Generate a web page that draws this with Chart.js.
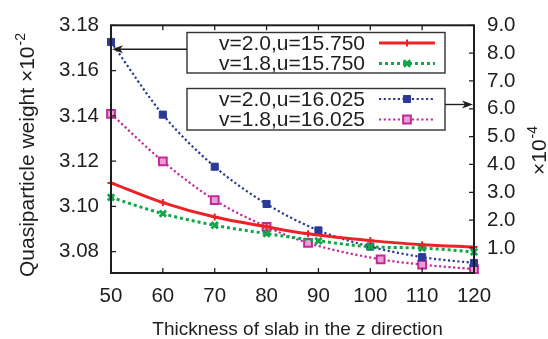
<!DOCTYPE html>
<html>
<head>
<meta charset="utf-8">
<script src="https://cdn.jsdelivr.net/npm/chart.js@4/dist/chart.umd.min.js"></script>
<style>
  html, body { margin: 0; padding: 0; background: #fff; }
  #wrap { width: 548px; height: 339px; }
</style>
</head>
<body>
<div id="wrap"><canvas id="myCanvas"></canvas></div>
<script>
// thickness values (x) and weights for each run
var xRed = [50, 60, 70, 80, 88, 100, 110, 120];
var redVals = [3.1104, 3.1017, 3.0953, 3.0910, 3.0879, 3.0849, 3.0831, 3.0821];
var xGreen = [50, 60, 70, 80, 90, 100, 110, 120];
var greenVals = [3.1040, 3.0968, 3.0917, 3.0880, 3.0848, 3.0822, 3.0816, 3.0799];
var xBlue = [50, 60, 70, 80, 90, 100, 110, 120];
var blueVals = [8.40, 5.79, 3.92, 2.58, 1.63, 1.05, 0.67, 0.46];
var xMagenta = [50, 60, 70, 80, 88, 102, 110, 120];
var magentaVals = [5.82, 4.11, 2.72, 1.76, 1.18, 0.59, 0.40, 0.24];

var seriesNames = ['v=2.0,u=15.750', 'v=1.8,u=15.750', 'v=2.0,u=16.025', 'v=1.8,u=16.025'];

// tick labels
var xTicks = [50, 60, 70, 80, 90, 100, 110, 120];
var leftTicks = [3.08, 3.10, 3.12, 3.14, 3.16, 3.18];
var rightTicks = [1, 2, 3, 4, 5, 6, 7, 8, 9];

var FONT = '"Liberation Sans", Arial, sans-serif';
var INK = '#1e1e1e';

function pts(xs, ys) {
  return xs.map(function (x, i) { return { x: x, y: ys[i] }; });
}

// frame, inward ticks, legend boxes, arrows and axis titles
var decorations = {
  id: 'decorations',
  afterDraw: function (chart) {
    var ctx = chart.ctx;
    var a = chart.chartArea;
    var sx = chart.scales.x, sl = chart.scales.y, sr = chart.scales.y2;
    ctx.save();

    ctx.strokeStyle = INK;
    ctx.lineWidth = 2;
    ctx.strokeRect(a.left, a.top, a.right - a.left, a.bottom - a.top);

    ctx.lineWidth = 1.3;
    ctx.beginPath();
    xTicks.forEach(function (v) {
      var px = sx.getPixelForValue(v);
      ctx.moveTo(px, a.bottom); ctx.lineTo(px, a.bottom - 5);
      ctx.moveTo(px, a.top); ctx.lineTo(px, a.top + 5);
    });
    leftTicks.forEach(function (v) {
      var py = sl.getPixelForValue(v);
      ctx.moveTo(a.left, py); ctx.lineTo(a.left + 5, py);
    });
    rightTicks.forEach(function (v) {
      var py = sr.getPixelForValue(v);
      ctx.moveTo(a.right, py); ctx.lineTo(a.right - 5, py);
    });
    ctx.stroke();

    // legend boxes
    var boxL = 187, boxR = 445;
    var boxes = [[32.5, 73], [88.5, 130]];
    var rows = [43, 63.5, 99, 119.5];
    ctx.lineWidth = 1.4;
    ctx.strokeStyle = '#333';
    boxes.forEach(function (b) {
      ctx.strokeRect(boxL, b[0], boxR - boxL, b[1] - b[0]);
    });

    ctx.font = '21px ' + FONT;
    ctx.fillStyle = INK;
    ctx.textAlign = 'right';
    ctx.textBaseline = 'middle';
    chart.data.datasets.forEach(function (ds, i) {
      var y = rows[i];
      ctx.fillText(ds.label, 365, y + 1);
      ctx.save();
      ctx.strokeStyle = ds.borderColor;
      ctx.lineWidth = ds.borderWidth;
      ctx.setLineDash(ds.borderDash || []);
      ctx.beginPath();
      ctx.moveTo(379, y); ctx.lineTo(435, y);
      ctx.stroke();
      ctx.setLineDash([]);
      ctx.fillStyle = ds.pointBackgroundColor;
      ctx.lineWidth = ds.pointBorderWidth;
      Chart.helpers.drawPoint(ctx, {
        pointStyle: ds.pointStyle,
        radius: ds.pointRadius,
        borderWidth: ds.pointBorderWidth,
        rotation: 0
      }, 407, y);
      ctx.restore();
    });

    // arrows pointing at the axis each box belongs to
    ctx.strokeStyle = INK;
    ctx.fillStyle = INK;
    ctx.lineWidth = 1.4;
    arrow(ctx, boxL, 49.3, a.left + 1, 49.3);
    arrow(ctx, boxR, 104.5, a.right - 1, 104.5);

    // x title
    ctx.font = '19px ' + FONT;
    ctx.textAlign = 'center';
    ctx.textBaseline = 'alphabetic';
    ctx.fillText('Thickness of slab in the z direction', 297.5, 335);

    // left title with exponent
    ctx.save();
    ctx.translate(34, 277);
    ctx.rotate(-Math.PI / 2);
    ctx.textAlign = 'left';
    ctx.font = '21px ' + FONT;
    var main = 'Quasiparticle weight \u00d710';
    ctx.fillText(main, 0, 0);
    var w = ctx.measureText(main).width;
    ctx.font = '14px ' + FONT;
    ctx.fillText('-2', w + 1, -9);
    ctx.restore();

    // right exponent label
    ctx.save();
    ctx.translate(546, 175);
    ctx.rotate(-Math.PI / 2);
    ctx.textAlign = 'left';
    ctx.font = '21px ' + FONT;
    ctx.fillText('\u00d710', 0, 0);
    var w2 = ctx.measureText('\u00d710').width;
    ctx.font = '14px ' + FONT;
    ctx.fillText('-4', w2 + 1, -9);
    ctx.restore();

    ctx.restore();
  }
};

function arrow(ctx, x0, y0, x1, y1) {
  var dir = x1 > x0 ? 1 : -1;
  ctx.beginPath();
  ctx.moveTo(x0, y0);
  ctx.lineTo(x1 - dir * 6, y1);
  ctx.stroke();
  ctx.beginPath();
  ctx.moveTo(x1, y1);
  ctx.lineTo(x1 - dir * 11, y1 - 4);
  ctx.lineTo(x1 - dir * 8, y1);
  ctx.lineTo(x1 - dir * 11, y1 + 4);
  ctx.closePath();
  ctx.fill();
}

var ctx = document.getElementById('myCanvas').getContext('2d');
var myChart = new Chart(ctx, {
  type: 'line',
  data: {
    datasets: [{
      label: seriesNames[0],
      data: pts(xRed, redVals),
      yAxisID: 'y',
      borderColor: '#ec2227',
      backgroundColor: '#ec2227',
      borderWidth: 3,
      pointStyle: 'cross',
      pointRadius: 3.5,
      pointBorderWidth: 2,
      pointBackgroundColor: '#ec2227'
    }, {
      label: seriesNames[1],
      data: pts(xGreen, greenVals),
      yAxisID: 'y',
      borderColor: '#12a64a',
      backgroundColor: '#12a64a',
      borderWidth: 3,
      borderDash: [3, 3],
      pointStyle: 'crossRot',
      pointRadius: 4.5,
      pointBorderWidth: 2.8,
      pointBackgroundColor: '#12a64a'
    }, {
      label: seriesNames[2],
      data: pts(xBlue, blueVals),
      yAxisID: 'y2',
      borderColor: '#2b3a96',
      backgroundColor: '#2b3a96',
      borderWidth: 2.2,
      borderDash: [2.2, 2.5],
      pointStyle: 'rect',
      pointRadius: 5,
      pointBorderWidth: 1,
      pointBackgroundColor: '#2b3a96'
    }, {
      label: seriesNames[3],
      data: pts(xMagenta, magentaVals),
      yAxisID: 'y2',
      borderColor: '#c12b98',
      backgroundColor: '#c12b98',
      borderWidth: 2.2,
      borderDash: [2.2, 2.5],
      pointStyle: 'rect',
      pointRadius: 5.5,
      pointBorderWidth: 2,
      pointBackgroundColor: '#ec9fd6'
    }]
  },
  options: {
    responsive: true,
    maintainAspectRatio: false,
    animation: false,
    devicePixelRatio: 1,
    clip: false,
    layout: { padding: { left: 0, right: 0, top: 19.5, bottom: 0 } },
    elements: { line: { cubicInterpolationMode: 'monotone', fill: false } },
    plugins: {
      legend: { display: false },
      tooltip: { enabled: false }
    },
    scales: {
      x: {
        type: 'linear',
        min: 50,
        max: 120,
        afterBuildTicks: function (s) { s.ticks = xTicks.map(function (v) { return { value: v }; }); },
        afterFit: function (s) { s.height = 66; },
        grid: { display: false, drawTicks: false },
        border: { display: false },
        ticks: { color: INK, padding: 11, maxRotation: 0, font: { family: FONT, size: 20.5 } }
      },
      y: {
        position: 'left',
        min: 3.0706,
        max: 3.18,
        afterBuildTicks: function (s) { s.ticks = leftTicks.map(function (v) { return { value: v }; }); },
        afterFit: function (s) { s.width = 111; },
        grid: { display: false, drawTicks: false },
        border: { display: false },
        ticks: {
          color: INK, padding: 12, font: { family: FONT, size: 20.5 },
          callback: function (v) { return v.toFixed(2); }
        }
      },
      y2: {
        position: 'right',
        min: 0.1,
        max: 9.0,
        afterBuildTicks: function (s) { s.ticks = rightTicks.map(function (v) { return { value: v }; }); },
        afterFit: function (s) { s.width = 74; },
        grid: { display: false, drawTicks: false },
        border: { display: false },
        ticks: {
          color: INK, padding: 13, font: { family: FONT, size: 20.5 },
          callback: function (v) { return v.toFixed(1); }
        }
      }
    }
  },
  plugins: [decorations]
});
</script>
</body>
</html>
